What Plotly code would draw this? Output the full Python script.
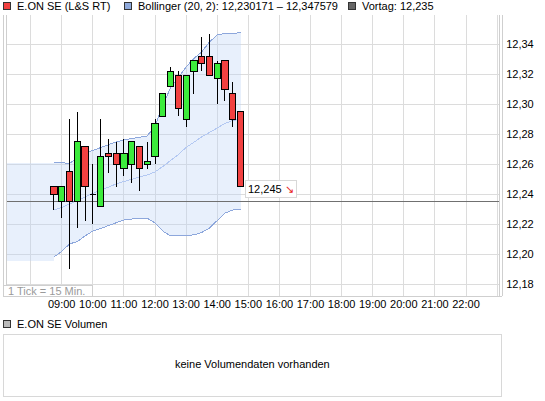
import plotly.graph_objects as go

# E.ON SE (L&S RT), 15-minute candles
day = "2024-05-15"
times = ["08:45", "09:00", "09:15", "09:30", "09:45", "10:00", "10:15", "10:30", "10:45",
         "11:00", "11:15", "11:30", "11:45", "12:00", "12:15", "12:30", "12:45",
         "13:00", "13:15", "13:30", "13:45", "14:00", "14:15", "14:30", "14:45"]
opens = [12.245, 12.235, 12.255, 12.235, 12.272, 12.240, 12.232, 12.267, 12.267, 12.257,
         12.260, 12.272, 12.260, 12.265, 12.292, 12.312, 12.319, 12.290, 12.322, 12.332,
         12.332, 12.317, 12.329, 12.307, 12.295]
highs = [12.245, 12.245, 12.290, 12.295, 12.272, 12.260, 12.290, 12.277, 12.275, 12.277,
         12.275, 12.272, 12.275, 12.290, 12.307, 12.325, 12.322, 12.319, 12.329, 12.345,
         12.347, 12.329, 12.329, 12.315, 12.295]
lows = [12.2295, 12.2245, 12.190, 12.2175, 12.222, 12.220, 12.232, 12.2545, 12.245, 12.252,
        12.2475, 12.242, 12.257, 12.260, 12.292, 12.312, 12.292, 12.285, 12.307, 12.322,
        12.319, 12.300, 12.302, 12.285, 12.245]
closes = [12.240, 12.245, 12.235, 12.275, 12.245, 12.240, 12.265, 12.265, 12.260, 12.267,
          12.275, 12.257, 12.262, 12.287, 12.307, 12.322, 12.297, 12.319, 12.329, 12.327,
          12.319, 12.327, 12.310, 12.290, 12.245]

# Bollinger (20, 2)
bb_upper = [12.2612, 12.2612, 12.2607, 12.2640, 12.2672, 12.2692, 12.2712, 12.2729, 12.2749,
            12.2762, 12.2772, 12.2780, 12.2789, 12.2855, 12.2995, 12.3109, 12.3182, 12.3249,
            12.3305, 12.3349, 12.3415, 12.3462, 12.3472, 12.3474, 12.347579]
bb_middle = [12.2295, 12.2312, 12.2335, 12.2359, 12.2382, 12.2405, 12.2429, 12.2447, 12.2469,
             12.2485, 12.2502, 12.2515, 12.2529, 12.2549, 12.2585, 12.2622, 12.2665, 12.2712,
             12.2749, 12.2782, 12.2812, 12.2842, 12.2872, 12.2892, 12.2900]
bb_lower = [12.1982, 12.2019, 12.2069, 12.2085, 12.2122, 12.2155, 12.2172, 12.2192, 12.2212,
            12.2229, 12.2235, 12.2239, 12.2240, 12.2209, 12.2155, 12.2122, 12.2124, 12.2127,
            12.2129, 12.2145, 12.2175, 12.2225, 12.2275, 12.2295, 12.230171]
# band carried over from the previous day
pre_times = ["07:13", "08:45"]
pre_upper = [12.2607, 12.2607]
pre_lower = [12.1957, 12.1957]

prev_close = 12.235
last_price = "12,245"
hour_ticks = ["08:00", "09:00", "10:00", "11:00", "12:00", "13:00", "14:00", "15:00",
              "16:00", "17:00", "18:00", "19:00", "20:00", "21:00", "22:00", "23:00"]
hour_labels = [""] + hour_ticks[1:-1] + [""]
y_ticks = [12.18, 12.20, 12.22, 12.24, 12.26, 12.28, 12.30, 12.32, 12.34]
x_range = ["07:12:30", "23:03:40"]
y_range = [12.1722, 12.3595]

W, H = 545, 401
ML, MR, MT, MB = 6, 46, 15, 4
FONT = "Liberation Sans, Arial, sans-serif"
UP, DOWN = "#3CEB3C", "#F24141"
BODY_MS = 720000  # candle body width on the time axis


def px(x):
    return (x - ML) / (W - ML - MR)


def py(y):
    return (H - MB - y) / (H - MT - MB)


def ts(t):
    return day + " " + t


fig = go.Figure()

fig.add_trace(go.Scatter(x=[ts(t) for t in pre_times], y=pre_lower, mode="lines",
                         line=dict(width=0), showlegend=False))
fig.add_trace(go.Scatter(x=[ts(t) for t in pre_times], y=pre_upper, mode="lines",
                         line=dict(width=0), fill="tonexty",
                         fillcolor="rgba(190,212,245,0.35)", showlegend=False))
fig.add_trace(go.Scatter(x=[ts(t) for t in times], y=bb_lower, mode="lines",
                         line=dict(color="#8DA7DC", width=1), showlegend=False))
fig.add_trace(go.Scatter(x=[ts(t) for t in times], y=bb_upper, mode="lines",
                         line=dict(color="#8DA7DC", width=1), fill="tonexty",
                         fillcolor="rgba(190,212,245,0.35)", showlegend=False))
fig.add_trace(go.Scatter(x=[ts(t) for t in times], y=bb_middle, mode="lines",
                         line=dict(color="#B3C8F2", width=1), showlegend=False))
fig.add_trace(go.Scatter(x=[ts(t) for t in x_range], y=[prev_close, prev_close], mode="lines",
                         line=dict(color="#707070", width=1), showlegend=False))

# wicks
wx, wy = [], []
for t, lo, hi in zip(times, lows, highs):
    wx += [ts(t), ts(t), None]
    wy += [lo, hi, None]
fig.add_trace(go.Scatter(x=wx, y=wy, mode="lines", line=dict(color="#000000", width=1),
                         showlegend=False))

# bodies, on an overlaid y axis so they sit above the band and the wicks
base = [min(o, c) for o, c in zip(opens, closes)]
size = [abs(c - o) for o, c in zip(opens, closes)]
cols = [UP if c >= o else DOWN for o, c in zip(opens, closes)]
fig.add_trace(go.Bar(x=[ts(t) for t in times], y=size, base=base, width=BODY_MS,
                     yaxis="y2",
                     marker=dict(color=cols, line=dict(color="#000000", width=1)),
                     showlegend=False))

shapes = []
frame = "#cfcfcf"
for x in (3, 6, 499, 502):
    shapes.append(dict(type="line", xref="paper", yref="paper", x0=px(x), x1=px(x),
                       y0=py(15), y1=py(296), line=dict(color=frame, width=1)))
shapes.append(dict(type="line", xref="paper", yref="paper", x0=px(3), x1=px(502),
                   y0=py(296), y1=py(296), line=dict(color=frame, width=1)))
shapes.append(dict(type="rect", xref="paper", yref="paper", x0=px(3), x1=px(92),
                   y0=py(296), y1=py(285), line=dict(color=frame, width=1),
                   fillcolor="white"))
shapes.append(dict(type="rect", xref="paper", yref="paper", x0=px(3), x1=px(501),
                   y0=py(396.5), y1=py(334.5), line=dict(color="#d8d8d8", width=1)))
# legend swatches
for x0, col, y0 in ((3, DOWN, 2), (124, "#8FAADC", 2), (348, "#666666", 2),
                    (3, "#BBBBBB", 320)):
    shapes.append(dict(type="rect", xref="paper", yref="paper", x0=px(x0), x1=px(x0 + 7),
                       y0=py(y0), y1=py(y0 + 7), fillcolor=col,
                       line=dict(color="#333333", width=1)))

ann = []
for x, txt, y in ((15, "E.ON SE (L&S RT)", 6),
                  (136, "Bollinger (20, 2): 12,230171 – 12,347579", 6),
                  (360, "Vortag: 12,235", 6),
                  (15, "E.ON SE Volumen", 324)):
    ann.append(dict(xref="paper", yref="paper", x=px(x), y=py(y), text=txt,
                    showarrow=False, xanchor="left", yanchor="middle",
                    font=dict(family=FONT, size=11, color="#000000")))
ann.append(dict(xref="paper", yref="paper", x=px(6), y=py(290.5), text="1 Tick = 15 Min.",
                showarrow=False, xanchor="left", yanchor="middle",
                font=dict(family=FONT, size=11, color="#9a9a9a")))
ann.append(dict(xref="paper", yref="paper", x=px(252), y=py(364),
                text="keine Volumendaten vorhanden", showarrow=False,
                xanchor="center", yanchor="middle",
                font=dict(family=FONT, size=11, color="#000000")))
ann.append(dict(xref="x", yref="y", x=ts(times[-1]), y=closes[-1],
                text=last_price + " <span style='color:#E8231E'>↘</span>",
                showarrow=False, xanchor="left", yanchor="middle", xshift=4, yshift=-2,
                bgcolor="white", bordercolor="#d8d8d8", borderwidth=1, borderpad=2,
                font=dict(family=FONT, size=11, color="#000000")))

fig.update_layout(
    width=W, height=H,
    margin=dict(l=ML, r=MR, t=MT, b=MB),
    paper_bgcolor="white", plot_bgcolor="white",
    hovermode=False,
    shapes=shapes, annotations=ann,
    xaxis=dict(type="date", range=[ts(t) for t in x_range],
               tickvals=[ts(t) for t in hour_ticks], ticktext=hour_labels,
               showgrid=True, gridcolor="#dcdcdc", gridwidth=1, zeroline=False,
               showline=False, ticks="",
               tickfont=dict(family=FONT, size=11, color="#000000")),
    yaxis=dict(domain=[py(296), 1], range=y_range, side="right",
               tickvals=y_ticks, ticktext=[f"{v:.2f}".replace(".", ",") for v in y_ticks],
               showgrid=True, gridcolor="#dcdcdc", gridwidth=1, zeroline=False,
               showline=False, ticks="outside", ticklen=4, tickcolor="rgba(0,0,0,0)",
               tickfont=dict(family=FONT, size=11, color="#000000")),
    yaxis2=dict(overlaying="y", range=y_range, side="right", visible=False,
                showgrid=False, zeroline=False),
)

# no default body margin; draw the marks pixel-sharp like the source chart
js = ("document.body.style.margin='0px';"
      "var st=document.createElement('style');"
      "st.textContent='svg.main-svg path, svg.main-svg rect, svg.main-svg line"
      "{shape-rendering:crispEdges !important;}';"
      "document.head.appendChild(st);")
fig.write_html("out.html", config={"displayModeBar": False}, post_script=js)
